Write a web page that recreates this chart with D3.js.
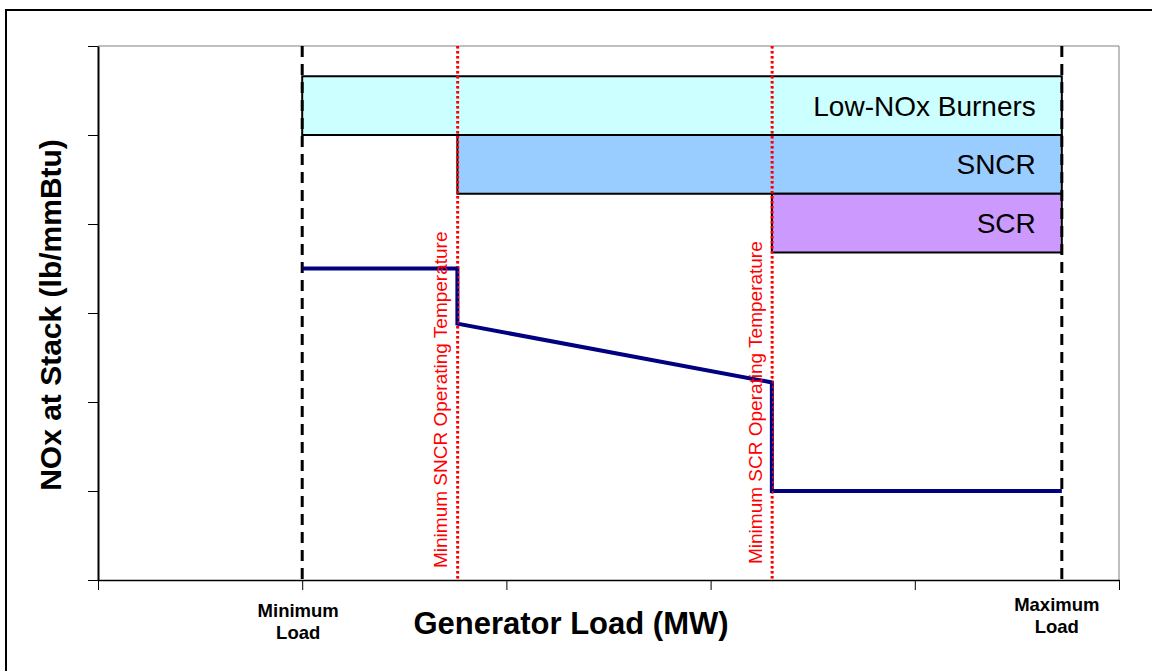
<!DOCTYPE html>
<html>
<head>
<meta charset="utf-8">
<script src="https://cdn.jsdelivr.net/npm/d3@7"></script>
<style>
  body { margin: 0; background: #fff; }
  svg { display: block; font-family: Arial, "Liberation Sans", sans-serif; }
</style>
</head>
<body>
<svg id="chart" width="1152" height="671"></svg>
<script>
// Data
var xTicks = [0, 1, 2, 3, 4, 5];
var yTicks = [0, 1, 2, 3, 4, 5, 6];

var minLoad = 1.0;
var maxLoad = 4.72;
var sncrTemp = 1.76;
var scrTemp = 3.3;

var barNames = ['Low-NOx Burners', 'SNCR', 'SCR'];
var barStart = [1.0, 1.76, 3.3];
var barTop = [5.66, 5.0, 4.34];
var barBottom = [5.0, 4.34, 3.68];
var barColors = ['#CCFFFF', '#99CCFF', '#CC99FF'];

var lineX = [1.0, 1.76, 1.76, 3.3, 3.3, 4.72];
var lineY = [3.5, 3.5, 2.88, 2.22, 1.0, 1.0];

var tempLabels = ['Minimum SNCR Operating Temperature', 'Minimum SCR Operating Temperature'];
var loadLabels = [['Minimum', 'Load'], ['Maximum', 'Load']];

// Sizing
var svg = d3.select('#chart');
var mLeft = 98, mRight = 1119, mTop = 46, mBottom = 580;

var x = d3.scaleLinear().domain([0, 5]).range([mLeft, mRight]);
var y = d3.scaleLinear().domain([0, 6]).range([mBottom, mTop]);

// outer border
svg.append('rect')
  .attr('x', 6).attr('y', 10)
  .attr('width', 1160).attr('height', 680)
  .attr('fill', 'none').attr('stroke', '#000').attr('stroke-width', 2);

// plot frame (top and right)
svg.append('path')
  .attr('d', 'M' + mLeft + ',' + mTop + 'H' + mRight + 'V' + mBottom)
  .attr('fill', 'none').attr('stroke', '#808080').attr('stroke-width', 1);

// bars
svg.selectAll('rect.bar')
  .data(barNames)
  .enter().append('rect')
  .attr('class', 'bar')
  .attr('x', function(d, i) { return x(barStart[i]); })
  .attr('y', function(d, i) { return y(barTop[i]); })
  .attr('width', function(d, i) { return x(maxLoad) - x(barStart[i]); })
  .attr('height', function(d, i) { return y(barBottom[i]) - y(barTop[i]); })
  .attr('fill', function(d, i) { return barColors[i]; })
  .attr('stroke', '#000').attr('stroke-width', 2);

svg.selectAll('text.barlabel')
  .data(barNames)
  .enter().append('text')
  .attr('class', 'barlabel')
  .attr('x', x(maxLoad) - 26)
  .attr('y', function(d, i) { return (y(barTop[i]) + y(barBottom[i])) / 2; })
  .attr('dy', '0.36em')
  .attr('text-anchor', 'end')
  .style('font-size', '28px')
  .text(function(d) { return d; });

// load limits (dashed)
svg.selectAll('line.load')
  .data([minLoad, maxLoad])
  .enter().append('line')
  .attr('class', 'load')
  .attr('x1', function(d) { return x(d); })
  .attr('x2', function(d) { return x(d); })
  .attr('y1', y(6)).attr('y2', y(0))
  .attr('stroke', '#000').attr('stroke-width', 3)
  .attr('stroke-dasharray', '11,7');

// temperature limits (dotted red)
svg.selectAll('line.temp')
  .data([sncrTemp, scrTemp])
  .enter().append('line')
  .attr('class', 'temp')
  .attr('x1', function(d) { return x(d); })
  .attr('x2', function(d) { return x(d); })
  .attr('y1', y(6)).attr('y2', y(0))
  .attr('stroke', '#FF0000').attr('stroke-width', 2.5)
  .attr('stroke-dasharray', '2.5,2.5');

// NOx line
var pts = lineX.map(function(d, i) { return [d, lineY[i]]; });
svg.append('path')
  .datum(pts)
  .attr('d', d3.line().x(function(d) { return x(d[0]); }).y(function(d) { return y(d[1]); }))
  .attr('fill', 'none').attr('stroke', '#000080').attr('stroke-width', 4);

// red dots stay visible over the line
svg.selectAll('line.temp2')
  .data([sncrTemp, scrTemp])
  .enter().append('line')
  .attr('x1', function(d) { return x(d) + 1; })
  .attr('x2', function(d) { return x(d) + 1; })
  .attr('y1', y(6)).attr('y2', y(0))
  .attr('stroke', '#FF0000').attr('stroke-width', 1.5)
  .attr('stroke-dasharray', '2.5,2.5');

// temperature labels
svg.selectAll('text.temp')
  .data(tempLabels)
  .enter().append('text')
  .attr('class', 'temp')
  .attr('transform', function(d, i) {
    return 'translate(' + (x([sncrTemp, scrTemp][i]) - 10) + ',' + (i === 0 ? 568 : 564) + ') rotate(-90)';
  })
  .attr('fill', '#FF0000')
  .style('font-size', '19px')
  .text(function(d) { return d; });

// axes
svg.append('g')
  .attr('transform', 'translate(0,' + mBottom + ')')
  .call(d3.axisBottom(x).tickValues(xTicks).tickFormat('').tickSize(10).tickSizeOuter(0))
  .call(function(g) { g.select('.domain').attr('stroke', '#000').attr('stroke-width', 1.5); });

svg.append('g')
  .attr('transform', 'translate(' + mLeft + ',0)')
  .call(d3.axisLeft(y).tickValues(yTicks).tickFormat('').tickSize(10).tickSizeOuter(0))
  .call(function(g) { g.select('.domain').attr('stroke', '#000').attr('stroke-width', 2); });

// load labels
svg.selectAll('text.loadlabel')
  .data(loadLabels)
  .enter().append('text')
  .attr('class', 'loadlabel')
  .attr('x', function(d, i) { return i === 0 ? x(minLoad) - 4 : x(maxLoad) - 5; })
  .attr('y', function(d, i) { return i === 0 ? 617 : 611; })
  .attr('text-anchor', 'middle')
  .style('font-size', '18.5px').style('font-weight', 'bold')
  .selectAll('tspan')
  .data(function(d) { return d; })
  .enter().append('tspan')
  .attr('x', function() { return d3.select(this.parentNode).attr('x'); })
  .attr('dy', function(d, i) { return i === 0 ? 0 : 22; })
  .text(function(d) { return d; });

// axis titles
svg.append('text')
  .attr('x', 571).attr('y', 634)
  .attr('text-anchor', 'middle')
  .style('font-size', '31px').style('font-weight', 'bold')
  .text('Generator Load (MW)');

svg.append('text')
  .attr('transform', 'translate(61,315) rotate(-90)')
  .attr('text-anchor', 'middle')
  .style('font-size', '30px').style('font-weight', 'bold')
  .text('NOx at Stack (lb/mmBtu)');
</script>
</body>
</html>
